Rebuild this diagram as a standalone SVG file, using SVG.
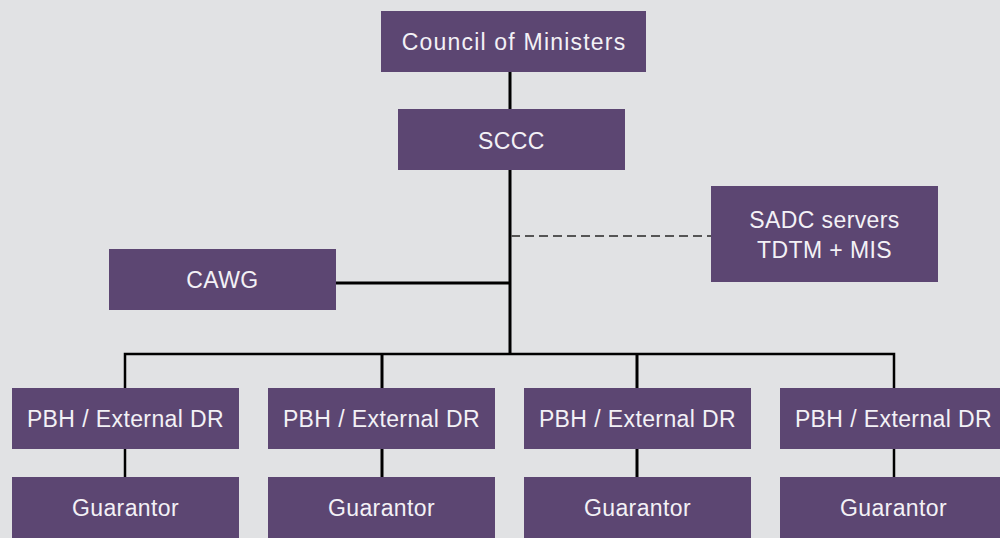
<svg xmlns="http://www.w3.org/2000/svg" width="1000" height="538" viewBox="0 0 1000 538">
<style>
.box{fill:#5c4672}
.t{fill:#f3f1f6;font-family:"Liberation Sans",Arial,sans-serif;font-size:23px;text-anchor:middle;letter-spacing:0.4px}
.wide{letter-spacing:1.2px}
.ln{stroke:#000;fill:none;stroke-width:3}
.thin{stroke:#000;fill:none;stroke-width:2.5}
.dash{stroke:#555;fill:none;stroke-width:2;stroke-dasharray:9 5}
</style>
<rect width="1000" height="538" fill="#e1e2e4"/>
<g id="connectors">
<line class="ln" x1="510" y1="72" x2="510" y2="355"/>
<line class="dash" x1="511" y1="236" x2="711" y2="236"/>
<line class="ln" x1="336" y1="283" x2="510" y2="283"/>
<polyline class="thin" points="125,388 125,354 894,354 894,388"/>
<line class="ln" x1="382" y1="354" x2="382" y2="388"/>
<line class="ln" x1="637" y1="354" x2="637" y2="388"/>
<line class="thin" x1="125" y1="449" x2="125" y2="477"/>
<line class="ln" x1="382" y1="449" x2="382" y2="477"/>
<line class="ln" x1="637" y1="449" x2="637" y2="477"/>
<line class="thin" x1="894" y1="449" x2="894" y2="477"/>
</g>
<g id="council"><rect class="box" x="381" y="11" width="265" height="61"/><text class="t wide" x="514" y="50">Council of Ministers</text></g>
<g id="sccc"><rect class="box" x="398" y="109" width="227" height="61"/><text class="t" x="511.5" y="149">SCCC</text></g>
<g id="sadc"><rect class="box" x="711" y="186" width="227" height="96"/><text class="t" x="824.5" y="228">SADC servers</text><text class="t" x="824.5" y="258">TDTM + MIS</text></g>
<g id="cawg"><rect class="box" x="109" y="249" width="227" height="61"/><text class="t" x="222.5" y="288">CAWG</text></g>
<g id="pbh1"><rect class="box" x="12" y="388" width="227" height="61"/><text class="t" x="125.5" y="427">PBH / External DR</text></g>
<g id="pbh2"><rect class="box" x="268" y="388" width="227" height="61"/><text class="t" x="381.5" y="427">PBH / External DR</text></g>
<g id="pbh3"><rect class="box" x="524" y="388" width="227" height="61"/><text class="t" x="637.5" y="427">PBH / External DR</text></g>
<g id="pbh4"><rect class="box" x="780" y="388" width="227" height="61"/><text class="t" x="893.5" y="427">PBH / External DR</text></g>
<g id="g1"><rect class="box" x="12" y="477" width="227" height="61"/><text class="t" x="125.5" y="516">Guarantor</text></g>
<g id="g2"><rect class="box" x="268" y="477" width="227" height="61"/><text class="t" x="381.5" y="516">Guarantor</text></g>
<g id="g3"><rect class="box" x="524" y="477" width="227" height="61"/><text class="t" x="637.5" y="516">Guarantor</text></g>
<g id="g4"><rect class="box" x="780" y="477" width="227" height="61"/><text class="t" x="893.5" y="516">Guarantor</text></g>
</svg>
